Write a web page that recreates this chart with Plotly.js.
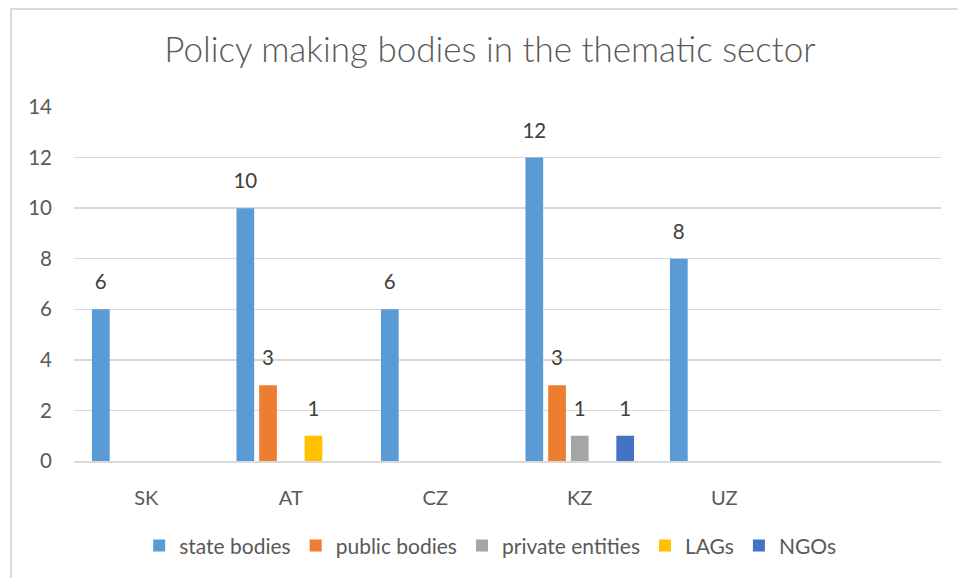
<!DOCTYPE html>
<html>
<head>
<meta charset="utf-8">
<script src="https://cdn.plot.ly/plotly-3.0.1.min.js"></script>
<style>
html,body{margin:0;padding:0;background:#fff;}
#frame{position:absolute;left:10px;top:8px;width:960px;height:580px;border-left:2px solid #d9d9d9;border-top:2px solid #d9d9d9;box-sizing:border-box;}
#chart{position:absolute;left:0;top:0;width:958px;height:578px;}
</style>
</head>
<body>
<div id="frame"></div>
<div id="chart"></div>
<script>
const categories = ['SK', 'AT', 'CZ', 'KZ', 'UZ'];
const seriesNames = ['state bodies', 'public bodies', 'private entities', 'LAGs', 'NGOs'];
const stateBodies = [6, 10, 6, 12, 8];
const publicBodies = [null, 3, null, 3, null];
const privateEntities = [null, null, null, 1, null];
const lags = [null, 1, null, null, null];
const ngos = [null, null, null, 1, null];
const yTickValues = [0, 2, 4, 6, 8, 10, 12, 14];
const colors = ['#5B9BD5', '#ED7D31', '#A5A5A5', '#FFC000', '#4472C4'];

const allSeries = [stateBodies, publicBodies, privateEntities, lags, ngos];
const FONT = 'Lato, "Open Sans", sans-serif';
const traces = [];
allSeries.forEach((vals, i) => {
  traces.push({
    type: 'bar', name: seriesNames[i], x: categories, y: vals,
    marker: {color: colors[i]}, offsetgroup: 'g' + i, hoverinfo: 'x+y+name'
  });
});
allSeries.forEach((vals, i) => {
  traces.push({
    type: 'scatter', mode: 'markers+text', x: categories, y: vals,
    text: vals.map(v => v == null ? '' : String(v)), textposition: 'top center',
    textfont: {family: FONT, size: 20.5, color: '#404040'},
    marker: {size: 22, opacity: 0, color: colors[i]},
    offsetgroup: 'g' + i, showlegend: false, hoverinfo: 'skip', cliponaxis: false
  });
});

const layout = {
  width: 958, height: 578,
  paper_bgcolor: 'rgba(0,0,0,0)', plot_bgcolor: 'rgba(0,0,0,0)',
  margin: {l: 74, r: 17, t: 107, b: 117},
  font: {family: FONT, size: 19, color: '#595959'},
  title: {text: 'Policy making bodies in the thematic sector', font: {family: FONT, size: 35, color: '#595959', weight: 300},
    x: 490 / 958, xanchor: 'center', xref: 'container', y: 1 - 50 / 578, yanchor: 'middle', yref: 'container'},
  barmode: 'group', bargap: 0.214, bargroupgap: 0.22,
  scattermode: 'group', scattergap: 0.214,
  xaxis: {type: 'category', range: [-0.5, 5.5], showgrid: false, zeroline: false,
    showline: true, linecolor: '#d9d9d9', linewidth: 1.5, ticks: '', ticklabelstandoff: 18,
    tickfont: {family: FONT, size: 20, color: '#595959'}, fixedrange: true},
  yaxis: {range: [0, 14], tickvals: yTickValues, showgrid: true, gridcolor: '#d9d9d9', gridwidth: 1.5,
    zeroline: false, showline: false, ticks: '', ticklabelstandoff: 21,
    tickfont: {family: FONT, size: 20.5, color: '#595959'}, fixedrange: true},
  showlegend: true,
  legend: {orientation: 'h', x: 0.48, xanchor: 'center', y: -0.24, yanchor: 'middle',
    font: {family: FONT, size: 21, color: '#595959'}, bgcolor: 'rgba(0,0,0,0)'}
};
Plotly.newPlot('chart', traces, layout, {displayModeBar: false, staticPlot: true});
</script>
</body>
</html>
